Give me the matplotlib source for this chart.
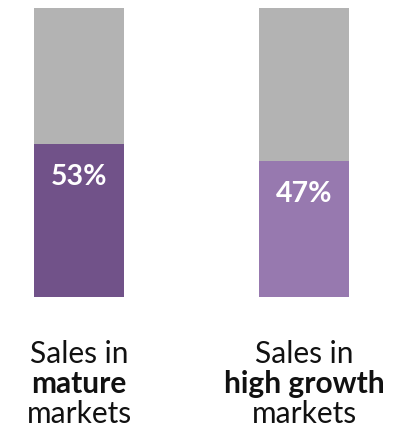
import matplotlib
matplotlib.use("Agg")
import matplotlib.pyplot as plt

categories = ["mature", "high growth"]
share = [53, 47]
rest = [47, 53]
pct_labels = ["53%", "47%"]
line1 = ["Sales in", "Sales in"]
line3 = ["markets", "markets"]

colors = ["#715289", "#9779AF"]
gray = "#B3B3B3"

plt.rcParams['font.family'] = ['Lato', 'DejaVu Sans']

W, H = 418, 432
fig = plt.figure(figsize=(W / 100, H / 100), dpi=100)
ax = fig.add_axes([0, 135 / H, 1, 289 / H])
x = [0, 1]
ax.bar(x, share, width=0.4, color=colors, linewidth=0)
ax.bar(x, rest, width=0.4, bottom=share, color=gray, linewidth=0)
ax.set_xlim(-79 / 225, 1 + (W - 304) / 225)
ax.set_ylim(0, 100)
ax.axis("off")

for xi, s, lab in zip(x, share, pct_labels):
    ax.annotate(lab, (xi, s), xytext=(0, -33 * 0.72), textcoords="offset points",
                ha="center", va="center", color="white", fontsize=20.5,
                fontweight="bold")

for xi, l1, cat, l3 in zip(x, line1, categories, line3):
    xf = ax.transData.transform((xi, 0))[0] / W
    fig.text(xf, 1 - 363 / H, l1, ha="center", va="baseline", fontsize=21.5, color="#111111")
    fig.text(xf, 1 - 393 / H, cat, ha="center", va="baseline", fontsize=21.5,
             fontweight="bold", color="#111111")
    fig.text(xf, 1 - 423 / H, l3, ha="center", va="baseline", fontsize=21.5, color="#111111")

fig.savefig("out.png", dpi=100, facecolor="white")
